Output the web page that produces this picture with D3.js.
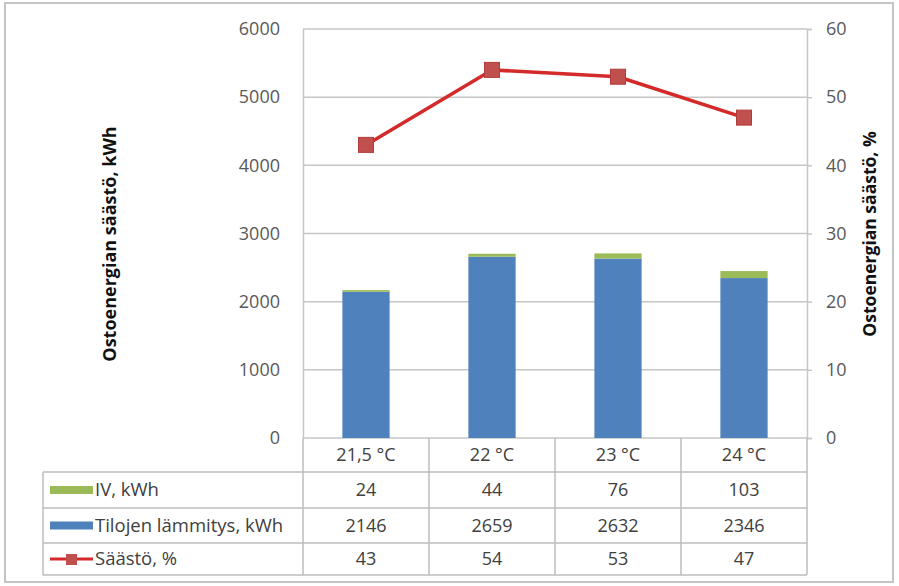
<!DOCTYPE html>
<html><head><meta charset="utf-8">
<script src="https://cdn.jsdelivr.net/npm/d3@7"></script>
<style>html,body{margin:0;padding:0;background:#fff;} svg{display:block;font-family:"Open Sans",Lato,sans-serif;}</style>
</head><body>
<svg id="c" width="899" height="586"></svg>
<script>
const categories = ["21,5 °C", "22 °C", "23 °C", "24 °C"];
const ivValues = [24, 44, 76, 103];
const heatingValues = [2146, 2659, 2632, 2346];
const savingPct = [43, 54, 53, 47];
const leftTicks = [0, 1000, 2000, 3000, 4000, 5000, 6000];
const rightTicks = [0, 10, 20, 30, 40, 50, 60];
const seriesNames = ["IV, kWh", "Tilojen lämmitys, kWh", "Säästö, %"];
const leftTitle = "Ostoenergian säästö, kWh";
const rightTitle = "Ostoenergian säästö, %";

const svg = d3.select("#c");
const W = 899, H = 586;
const FONT = "Open Sans";
const FS = 18;
const plot = {l: 303, r: 807, t: 29, b: 438};
const colBlue = "#4F81BD", colGreen = "#9BBB59", colLine = "#D42A2A", colMarker = "#C0504D";
const gridCol = "#c6c6c6", textCol = "#595959", tableText = "#404040";

svg.append("rect").attr("x",0).attr("y",0).attr("width",W).attr("height",H).attr("fill","#fff");
svg.append("rect").attr("x",5).attr("y",3).attr("width",888).attr("height",579)
  .attr("fill","none").attr("stroke","#c4c4c4").attr("stroke-width",2);

const x = d3.scaleBand().domain(categories).range([plot.l, plot.r]).paddingInner(0).paddingOuter(0);
const yL = d3.scaleLinear().domain([0, 6000]).range([plot.b, plot.t]);
const yR = d3.scaleLinear().domain([0, 60]).range([plot.b, plot.t]);

// gridlines
svg.append("g").selectAll("line").data(leftTicks).join("line")
  .attr("x1", plot.l).attr("x2", plot.r)
  .attr("y1", d => yL(d)).attr("y2", d => yL(d))
  .attr("stroke", gridCol).attr("stroke-width", 1.5);

// left axis
const gL = svg.append("g").attr("transform", `translate(${plot.l},0)`)
  .call(d3.axisLeft(yL).tickValues(leftTicks).tickSize(0).tickPadding(23).tickFormat(d3.format("d")));
gL.select(".domain").attr("stroke", gridCol).attr("stroke-width", 1.5);
gL.selectAll("text").attr("font-size", FS).attr("fill", textCol).attr("font-family", FONT);

// right axis
const gR = svg.append("g").attr("transform", `translate(${plot.r},0)`)
  .call(d3.axisRight(yR).tickValues(rightTicks).tickSize(5).tickPadding(14).tickFormat(d3.format("d")));
gR.select(".domain").attr("stroke", gridCol).attr("stroke-width", 1.5);
gR.selectAll(".tick line").attr("stroke", gridCol).attr("stroke-width", 1.5);
gR.selectAll("text").attr("font-size", FS).attr("fill", textCol).attr("font-family", FONT);

// stacked bars
const stackData = categories.map((c, i) => ({cat: c, heat: heatingValues[i], iv: ivValues[i]}));
const stack = d3.stack().keys(["heat", "iv"])(stackData);
const barW = x.bandwidth() * 0.375;
const colors = {heat: colBlue, iv: colGreen};
svg.append("g").selectAll("g").data(stack).join("g")
  .attr("fill", d => colors[d.key])
  .selectAll("rect").data(d => d).join("rect")
  .attr("x", d => x(d.data.cat) + (x.bandwidth() - barW) / 2)
  .attr("width", barW)
  .attr("y", d => yL(d[1]))
  .attr("height", d => yL(d[0]) - yL(d[1]));

// line
const lineGen = d3.line().x((d, i) => x(categories[i]) + x.bandwidth() / 2).y(d => yR(d));
svg.append("path").datum(savingPct).attr("d", lineGen)
  .attr("fill", "none").attr("stroke", colLine).attr("stroke-width", 3.5).attr("stroke-linejoin", "round");
const ms = 15;
svg.append("g").selectAll("rect").data(savingPct).join("rect")
  .attr("x", (d, i) => x(categories[i]) + x.bandwidth() / 2 - ms / 2)
  .attr("y", d => yR(d) - ms / 2)
  .attr("width", ms).attr("height", ms)
  .attr("fill", colMarker).attr("stroke", "#B43B3B").attr("stroke-width", 1);

// axis titles
svg.append("text").attr("transform", `translate(116,244) rotate(-90)`)
  .attr("text-anchor", "middle").attr("font-weight", "bold").attr("font-size", 18)
  .attr("fill", "#111").attr("font-family", FONT).text(leftTitle);
svg.append("text").attr("transform", `translate(876,234) rotate(-90)`)
  .attr("text-anchor", "middle").attr("font-weight", "bold").attr("font-size", 17.5)
  .attr("fill", "#111").attr("font-family", FONT).text(rightTitle);

// data table
const tbl = svg.append("g").attr("font-family", FONT);
const rowY = [plot.b, 472, 508, 543, 575];
const tLeft = 43;
const tLineCol = "#bdbdbd";
const bounds = categories.map(c => x(c)).concat([plot.r]);
tbl.selectAll("line.v").data(bounds).join("line").attr("class", "v")
  .attr("x1", d => d).attr("x2", d => d).attr("y1", rowY[0]).attr("y2", rowY[4])
  .attr("stroke", tLineCol).attr("stroke-width", 1.5);
tbl.append("line").attr("x1", tLeft).attr("x2", tLeft).attr("y1", rowY[1]).attr("y2", rowY[4])
  .attr("stroke", tLineCol).attr("stroke-width", 1.5);
tbl.selectAll("line.h").data(rowY.slice(1)).join("line").attr("class", "h")
  .attr("x1", tLeft).attr("x2", plot.r).attr("y1", d => d).attr("y2", d => d)
  .attr("stroke", tLineCol).attr("stroke-width", 1.5);

tbl.selectAll("text.cat").data(categories).join("text").attr("class", "cat")
  .attr("x", d => x(d) + x.bandwidth() / 2).attr("y", (rowY[0] + rowY[1]) / 2 + 6)
  .attr("text-anchor", "middle").attr("font-size", FS).attr("fill", tableText).text(d => d);

const rows = [ivValues, heatingValues, savingPct];
rows.forEach((vals, r) => {
  const cy = (rowY[r + 1] + rowY[r + 2]) / 2 + 6;
  tbl.append("g").selectAll("text").data(vals).join("text")
    .attr("x", (d, i) => x(categories[i]) + x.bandwidth() / 2).attr("y", cy)
    .attr("text-anchor", "middle").attr("font-size", FS).attr("fill", tableText).text(d => d);
  tbl.append("text").attr("x", 95).attr("y", cy).attr("font-size", 18.5).attr("fill", tableText).text(seriesNames[r]);
  const my = cy - 6;
  if (r === 0 || r === 1) {
    tbl.append("rect").attr("x", 50).attr("y", my - 4).attr("width", 43).attr("height", 8)
      .attr("fill", r === 0 ? colGreen : colBlue);
  } else {
    tbl.append("line").attr("x1", 50).attr("x2", 93).attr("y1", my).attr("y2", my)
      .attr("stroke", colLine).attr("stroke-width", 3);
    tbl.append("rect").attr("x", 66).attr("y", my - 5).attr("width", 11).attr("height", 11)
      .attr("fill", colMarker);
  }
});
</script>
</body></html>
